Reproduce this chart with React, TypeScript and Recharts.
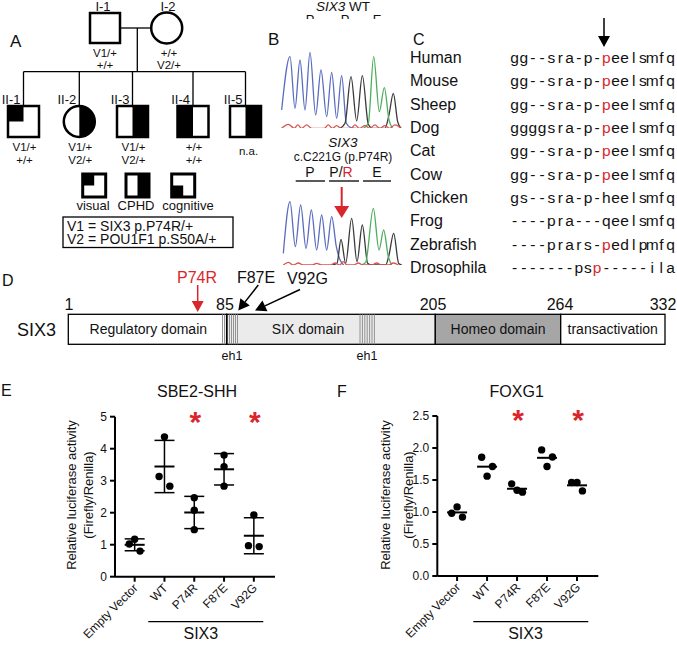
import React from 'react';
import {
  ScatterChart,
  Scatter,
  XAxis,
  YAxis,
  ErrorBar,
  ReferenceDot,
  LineChart,
  Line,
} from 'recharts';

const FONT = '"Liberation Sans", Arial, Helvetica, sans-serif';
const RED = '#d9262c';

// ---------- E / F: luciferase reporter assays (3 replicates each)
const constructs = ['Empty Vector', 'WT', 'P74R', 'F87E', 'V92G'];
const sbe2Shh = [
  [1.02, 1.17, 0.8],
  [3.13, 4.37, 2.83],
  [2.47, 2.08, 1.47],
  [3.8, 3.44, 2.83],
  [0.97, 1.93, 0.94],
];
// horizontal slot of each replicate dot: -1 left, 0 middle, 1 right
const sbe2Jitter = [
  [-1, 0, 1],
  [-1, 0, 1],
  [0, 0, 0],
  [0, 0, 0],
  [-1, 0, 1],
];
const foxg1 = [
  [0.98, 1.08, 0.92],
  [1.855, 1.56, 1.71],
  [1.44, 1.34, 1.31],
  [1.97, 1.71, 1.86],
  [1.46, 1.46, 1.33],
];
const foxg1Jitter = [
  [-1, 0, 1],
  [-1, 0, 1],
  [-1, 0, 1],
  [-1, 0, 1],
  [-1, 0, 1],
];
const sbe2Ticks = [0, 1, 2, 3, 4, 5];
const foxg1Ticks = [0, 0.5, 1, 1.5, 2, 2.5];
const significant = [2, 4]; // P74R, V92G
const sbe2StarY = 5.05;
const foxg1StarY = 2.55;

// ---------- B: chromatogram traces [position, signal]
const wtBlue = [[20, 55], [45, 215], [60, 60], [75, 205], [90, 55], [105, 228], [122, 40], [138, 175], [155, 35], [170, 168], [185, 30], [200, 158], [214, 15], [228, 2], [245, 0]];
const wtBlack = [[195, 0], [210, 15], [228, 155], [245, 22], [262, 158], [280, 12], [292, 0], [330, 0], [342, 40], [355, 105], [368, 20], [378, 0]];
const wtGreen = [[265, 0], [280, 15], [296, 215], [313, 50], [328, 122], [342, 25], [352, 0]];
const wtRed = [[20, 0], [40, 12], [58, 0], [68, 10], [80, 0], [95, 10], [110, 0], [148, 0], [160, 10], [172, 0], [185, 8], [198, 0], [228, 0], [240, 10], [253, 0], [270, 8], [284, 0], [300, 10], [314, 0], [330, 8], [344, 0], [360, 10], [378, 0]];
const mutBlue = [[25, 35], [45, 190], [61, 55], [77, 180], [93, 50], [109, 165], [125, 45], [140, 150], [155, 45], [170, 145], [184, 55], [194, 18], [206, 0]];
const mutBlack = [[172, 0], [186, 5], [198, 77], [212, 5], [230, 140], [246, 10], [262, 120], [278, 5], [290, 0], [332, 0], [342, 30], [356, 95], [371, 5], [380, 0]];
const mutGreen = [[258, 0], [272, 8], [295, 170], [312, 45], [326, 105], [340, 25], [350, 0]];
const mutRed = [[25, 0], [40, 8], [55, 0], [70, 6], [85, 0], [112, 0], [125, 5], [140, 0], [166, 0], [180, 6], [194, 0], [205, 10], [216, 0], [236, 0], [250, 6], [264, 0], [290, 0], [305, 6], [320, 0], [340, 0], [355, 6], [370, 0]];

// ---------- C: alignment
const species = ['Human', 'Mouse', 'Sheep', 'Dog', 'Cat', 'Cow', 'Chicken', 'Frog', 'Zebrafish', 'Drosophila'];
const sequences = [
  'gg--sra-p-peelsmfq',
  'gg--sra-p-peelsmfq',
  'gg--sra-p-peelsmfq',
  'ggggsra-p-peelsmfq',
  'gg--sra-p-peelsmfq',
  'gg--sra-p-peelsmfq',
  'gs--sra-p-heelsmfq',
  '----pra---qeelsmfq',
  '----prars-pedlpmfq',
  '-------psp-----ila',
];
const highlightCol = [10, 10, 10, 10, 10, 10, -1, -1, 10, 9];

// ---------- A: pedigree
const children = [
  { id: 'II-1', sex: 'M', fill: 'tl', geno: ['V1/+', '+/+'] },
  { id: 'II-2', sex: 'F', fill: 'r', geno: ['V1/+', 'V2/+'] },
  { id: 'II-3', sex: 'M', fill: 'r', geno: ['V1/+', 'V2/+'] },
  { id: 'II-4', sex: 'M', fill: 'l', geno: ['+/+', '+/+'] },
  { id: 'II-5', sex: 'M', fill: 'r', geno: ['n.a.'] },
];
const legendItems = [
  { label: 'visual', fill: 'tl' },
  { label: 'CPHD', fill: 'r' },
  { label: 'cognitive', fill: 'bl' },
];

// ---------- D: domain map
const aaMarks = ['1', '85', '205', '264', '332'];
const domainNames = ['Regulatory domain', 'SIX domain', 'Homeo domain', 'transactivation'];

const mean = (a: number[]) => a.reduce((s, v) => s + v, 0) / a.length;
const sd = (a: number[]) => {
  const m = mean(a);
  return Math.sqrt(a.reduce((s, v) => s + (v - m) ** 2, 0) / (a.length - 1));
};

function Arrow({ x1, y1, x2, y2, color = '#000', head = 11, hw = 6, sw = 1.5 }: any) {
  const dx = x2 - x1;
  const dy = y2 - y1;
  const len = Math.hypot(dx, dy);
  const ux = dx / len;
  const uy = dy / len;
  const bx = x2 - ux * head;
  const by = y2 - uy * head;
  const pts = `${x2},${y2} ${bx - uy * hw},${by + ux * hw} ${bx + uy * hw},${by - ux * hw}`;
  return (
    <g>
      <line x1={x1} y1={y1} x2={bx} y2={by} stroke={color} strokeWidth={sw} />
      <polygon points={pts} fill={color} />
    </g>
  );
}

function SquareSym({ x, y, s, fill, sw = 2.5 }: any) {
  const h = s / 2;
  let part = null;
  if (fill === 'tl') part = <rect x={x} y={y} width={h} height={h} fill="#000" />;
  if (fill === 'bl') part = <rect x={x} y={y + h} width={h} height={h} fill="#000" />;
  if (fill === 'r') part = <rect x={x + h} y={y} width={h} height={s} fill="#000" />;
  if (fill === 'l') part = <rect x={x} y={y} width={h} height={s} fill="#000" />;
  return (
    <g>
      <rect x={x} y={y} width={s} height={s} fill="#fff" />
      {part}
      <rect x={x} y={y} width={s} height={s} fill="none" stroke="#000" strokeWidth={sw} />
    </g>
  );
}

function CircleSym({ cx, cy, r, fill, sw = 2.5 }: any) {
  return (
    <g>
      <circle cx={cx} cy={cy} r={r} fill="#fff" />
      {fill === 'r' && <path d={`M${cx},${cy - r} A${r},${r} 0 0 1 ${cx},${cy + r} Z`} fill="#000" />}
      <circle cx={cx} cy={cy} r={r} fill="none" stroke="#000" strokeWidth={sw} />
    </g>
  );
}

function Chromatogram({ left, top, height, yMax, traces }: any) {
  const colors = ['#5b6dbf', '#3a3a3a', '#4cae5b', '#d9534f'];
  return (
    <div style={{ position: 'absolute', left, top }}>
      <LineChart width={130} height={height} margin={{ top: 0, right: 0, bottom: 0, left: 0 }}>
        <XAxis type="number" dataKey="x" domain={[0, 390]} hide allowDataOverflow />
        <YAxis type="number" domain={[0, yMax]} hide allowDataOverflow />
        {traces.map((t: number[][], i: number) => (
          <Line
            key={i}
            data={t.map(([x, h]) => ({ x, h }))}
            dataKey="h"
            type="monotone"
            stroke={colors[i]}
            strokeWidth={1.3}
            dot={false}
            isAnimationActive={false}
          />
        ))}
      </LineChart>
    </div>
  );
}

const MeanLine = (p: any) => (
  <line x1={p.cx - 10} x2={p.cx + 10} y1={p.cy} y2={p.cy} stroke="#000" strokeWidth={2} />
);
const Dot = (p: any) => <circle cx={p.cx} cy={p.cy} r={3.7} fill="#000" />;
const Star = (p: any) => (
  <text x={p.cx + 1} y={p.cy + 17} textAnchor="middle" fontSize={30} fontWeight="bold" fill={RED} fontFamily={FONT}>
    *
  </text>
);

const RotTick = (p: any) => (
  <text
    transform={`translate(${p.x + 4},${p.y + 5}) rotate(-45)`}
    textAnchor="end"
    fontSize={12}
    fill="#111"
    fontFamily={FONT}
  >
    {constructs[Math.round(p.payload.value)]}
  </text>
);

function AssayChart({ left, width, margin, values, jitter, yTicks, fmt, showSd, starY }: any) {
  const points = values.flatMap((reps: number[], g: number) =>
    reps.map((v, k) => ({ x: g + jitter[g][k] * 0.18, y: v }))
  );
  const summary = values.map((reps: number[], g: number) => ({ x: g, y: mean(reps), sd: sd(reps) }));
  return (
    <div style={{ position: 'absolute', left, top: 375 }}>
      <ScatterChart width={width} height={296} margin={margin} style={{ fontFamily: FONT }}>
        <XAxis
          type="number"
          dataKey="x"
          domain={[-0.66, 4.71]}
          ticks={[0, 1, 2, 3, 4]}
          tick={(p: any) => <RotTick {...p} />}
          height={30}
          tickSize={5}
          axisLine={{ stroke: '#000', strokeWidth: 2 }}
          tickLine={{ stroke: '#000', strokeWidth: 2 }}
        />
        <YAxis
          type="number"
          dataKey="y"
          domain={[0, yTicks[yTicks.length - 1]]}
          ticks={yTicks}
          tickFormatter={fmt}
          width={45}
          tickSize={5}
          tickMargin={3}
          tick={{ fontSize: 12, fill: '#111', fontFamily: FONT }}
          axisLine={{ stroke: '#000', strokeWidth: 2 }}
          tickLine={{ stroke: '#000', strokeWidth: 2 }}
        />
        <Scatter data={summary} shape={MeanLine} isAnimationActive={false}>
          {showSd ? <ErrorBar dataKey="sd" direction="y" width={10} stroke="#000" strokeWidth={1.5} /> : null}
        </Scatter>
        <Scatter data={points} shape={Dot} isAnimationActive={false} />
        {significant.map((g) => (
          <ReferenceDot key={g} x={g} y={starY} ifOverflow="visible" shape={Star} />
        ))}
      </ScatterChart>
    </div>
  );
}

export default function App() {
  const childX = [23.5, 79.3, 132.5, 193, 245.5];
  const legendX = [82.7, 126, 171.7];
  const legendLabelX = [93, 136, 188];
  const domX = [68.3, 226.7, 435.3, 560.7, 665];
  const domFill = ['#fff', '#ebebeb', '#a6a6a6', '#fff'];
  const domLabelX = [148.3, 308, 498, 612.7];
  const markX = [69, 225, 433, 560, 663];
  const eh1a = [222.5, 224.5, 229.5, 231.5, 233.5, 235.5, 237.5];
  const eh1b = [360, 362.4, 364.8, 367.2, 369.6, 372, 374.4];
  const t = { fontFamily: FONT, fill: '#111' };

  return (
    <div style={{ position: 'absolute', left: 0, top: 0, width: 677, height: 671, background: '#fff', overflow: 'hidden' }}>
      <svg width={677} height={671} style={{ position: 'absolute', left: 0, top: 0 }}>
        {/* ---- A pedigree ---- */}
        <text x={10} y={47} fontSize={17} {...t}>A</text>
        <text x={103} y={10.5} fontSize={13} textAnchor="middle" {...t}>I-1</text>
        <text x={168} y={10.5} fontSize={13} textAnchor="middle" {...t}>I-2</text>
        <line x1={120} y1={28} x2={151} y2={28} stroke="#000" strokeWidth={1.3} />
        <line x1={137.3} y1={28} x2={137.3} y2={71.7} stroke="#000" strokeWidth={1.3} />
        <line x1={childX[0]} y1={71.7} x2={childX[4]} y2={71.7} stroke="#000" strokeWidth={1.3} />
        <SquareSym x={90} y={13} s={30} fill="none" />
        <CircleSym cx={166.7} cy={28} r={15.5} fill="none" />
        <text x={105} y={57} fontSize={11.5} textAnchor="middle" {...t}>V1/+</text>
        <text x={105} y={69} fontSize={11.5} textAnchor="middle" {...t}>+/+</text>
        <text x={169} y={57} fontSize={11.5} textAnchor="middle" {...t}>+/+</text>
        <text x={169} y={69} fontSize={11.5} textAnchor="middle" {...t}>V2/+</text>
        {children.map((c, i) => {
          const cx = childX[i];
          return (
            <g key={c.id}>
              <line x1={cx} y1={71.7} x2={cx} y2={106} stroke="#000" strokeWidth={1.3} />
              <text x={cx - 3} y={104} fontSize={13} textAnchor="end" {...t}>{c.id}</text>
              {c.sex === 'F' ? (
                <CircleSym cx={cx} cy={121.5} r={15.5} fill={c.fill} />
              ) : (
                <SquareSym x={cx - 15.5} y={106} s={31} fill={c.fill} />
              )}
              {c.geno.length === 1 ? (
                <text x={cx + 3} y={155} fontSize={11.5} textAnchor="middle" {...t}>{c.geno[0]}</text>
              ) : (
                c.geno.map((g, k) => (
                  <text key={k} x={cx + 1} y={151 + k * 13} fontSize={11.5} textAnchor="middle" {...t}>{g}</text>
                ))
              )}
            </g>
          );
        })}
        {legendItems.map((l, i) => (
          <g key={l.label}>
            <SquareSym x={legendX[i]} y={174} s={23} fill={l.fill} sw={3} />
            <text x={legendLabelX[i]} y={210} fontSize={13} textAnchor="middle" {...t}>{l.label}</text>
          </g>
        ))}
        <rect x={63} y={217} width={170} height={30.5} fill="none" stroke="#000" strokeWidth={1.3} />
        <text x={67} y={230.5} fontSize={14} {...t}>V1 = SIX3 p.P74R/+</text>
        <text x={67} y={244} fontSize={14} {...t}>V2 = POU1F1 p.S50A/+</text>

        {/* ---- B chromatogram labels ---- */}
        <text x={268} y={45} fontSize={17} {...t}>B</text>
        <text x={343} y={11} fontSize={13.5} textAnchor="middle" {...t}>
          <tspan fontStyle="italic">SIX3</tspan> WT
        </text>
        <clipPath id="ppeClip">
          <rect x={290} y={12} width={110} height={7} />
        </clipPath>
        <g clipPath="url(#ppeClip)">
          <text x={310} y={24} fontSize={13} textAnchor="middle" {...t}>P</text>
          <text x={345} y={24} fontSize={13} textAnchor="middle" {...t}>P</text>
          <text x={377} y={24} fontSize={13} textAnchor="middle" {...t}>E</text>
        </g>
        <text x={343} y={147} fontSize={13.5} fontStyle="italic" textAnchor="middle" {...t}>SIX3</text>
        <text x={343} y={161} fontSize={12} textAnchor="middle" {...t}>c.C221G (p.P74R)</text>
        <text x={310} y={176.5} fontSize={14} textAnchor="middle" {...t}>P</text>
        <text x={341} y={176.5} fontSize={14} textAnchor="middle" {...t}>
          P/<tspan fill={RED}>R</tspan>
        </text>
        <text x={377} y={176.5} fontSize={14} textAnchor="middle" {...t}>E</text>
        <line x1={295.7} y1={181} x2={325} y2={181} stroke="#000" strokeWidth={1.3} />
        <line x1={329} y1={181} x2={359} y2={181} stroke="#000" strokeWidth={1.3} />
        <line x1={363} y1={181} x2={391} y2={181} stroke="#000" strokeWidth={1.3} />
        <Arrow x1={341.7} y1={187} x2={341.7} y2={218} color={RED} head={12} hw={7.5} sw={2} />

        {/* ---- C alignment ---- */}
        <text x={413} y={45} fontSize={16} {...t}>C</text>
        <Arrow x1={604} y1={18} x2={604} y2={47} head={11} hw={6} sw={1.5} />
        {species.map((s, r) => {
          const y = 63 + r * 23.33;
          return (
            <g key={s}>
              <text x={410} y={y} fontSize={16} {...t}>{s}</text>
              {sequences[r].split('').map((ch, c) => (
                <text
                  key={c}
                  x={510 + (c + 0.5) * 9.17}
                  y={y}
                  fontSize={15.5}
                  textAnchor="middle"
                  fontFamily={FONT}
                  fill={c === highlightCol[r] ? RED : '#111'}
                >
                  {ch}
                </text>
              ))}
            </g>
          );
        })}

        {/* ---- D domain map ---- */}
        <text x={2} y={286} fontSize={16} {...t}>D</text>
        <text x={17} y={336} fontSize={18} {...t}>SIX3</text>
        {domainNames.map((d, i) => (
          <rect key={d} x={domX[i]} y={314.3} width={domX[i + 1] - domX[i]} height={30} fill={domFill[i]} stroke="#000" strokeWidth={1.3} />
        ))}
        {eh1a.map((x) => (
          <line key={x} x1={x} y1={314.3} x2={x} y2={344.3} stroke="#888" strokeWidth={0.9} />
        ))}
        {eh1b.map((x) => (
          <line key={x} x1={x} y1={314.3} x2={x} y2={344.3} stroke="#888" strokeWidth={0.9} />
        ))}
        <line x1={226.7} y1={314.3} x2={226.7} y2={344.3} stroke="#000" strokeWidth={1.6} />
        {domainNames.map((d, i) => (
          <text key={d} x={domLabelX[i]} y={333.5} fontSize={14} textAnchor="middle" {...t}>{d}</text>
        ))}
        {aaMarks.map((m, i) => (
          <text key={m} x={markX[i]} y={310} fontSize={16} textAnchor="middle" {...t}>{m}</text>
        ))}
        <text x={232} y={360} fontSize={12.5} textAnchor="middle" {...t}>eh1</text>
        <text x={367} y={360} fontSize={12.5} textAnchor="middle" {...t}>eh1</text>
        <text x={197} y={283} fontSize={16} textAnchor="middle" fontFamily={FONT} fill={RED}>P74R</text>
        <text x={256} y={283} fontSize={16} textAnchor="middle" {...t}>F87E</text>
        <text x={307.5} y={284} fontSize={16} textAnchor="middle" {...t}>V92G</text>
        <Arrow x1={197.7} y1={285} x2={197.7} y2={312} color={RED} head={11} hw={6} sw={1.5} />
        <Arrow x1={258.3} y1={285} x2={238.3} y2={310.5} head={11} hw={6} sw={1.5} />
        <Arrow x1={300} y1={289.5} x2={255} y2={310.5} head={11} hw={6} sw={1.5} />

        {/* ---- E / F labels ---- */}
        <text x={1} y={396} fontSize={16} {...t}>E</text>
        <text x={197} y={397} fontSize={16} textAnchor="middle" {...t}>SBE2-SHH</text>
        <text transform="translate(76,495) rotate(-90)" fontSize={13} textAnchor="middle" {...t}>Relative luciferase activity</text>
        <text transform="translate(92.5,495) rotate(-90)" fontSize={13} textAnchor="middle" {...t}>(Firefly/Renilla)</text>
        <line x1={148.3} y1={621.7} x2={263.3} y2={621.7} stroke="#000" strokeWidth={1.2} />
        <text x={200.8} y={639} fontSize={16} textAnchor="middle" {...t}>SIX3</text>

        <text x={337} y={397} fontSize={16} {...t}>F</text>
        <text x={516.7} y={397} fontSize={16} textAnchor="middle" {...t}>FOXG1</text>
        <text transform="translate(390,495) rotate(-90)" fontSize={13} textAnchor="middle" {...t}>Relative luciferase activity</text>
        <text transform="translate(412.5,495) rotate(-90)" fontSize={13} textAnchor="middle" {...t}>(Firefly/Renilla)</text>
        <line x1={473.3} y1={621.7} x2={588.3} y2={621.7} stroke="#000" strokeWidth={1.2} />
        <text x={525.5} y={639} fontSize={16} textAnchor="middle" {...t}>SIX3</text>
      </svg>

      <Chromatogram left={275} top={45} height={83.3} yMax={250} traces={[wtBlue, wtBlack, wtGreen, wtRed]} />
      <Chromatogram left={275} top={200} height={65} yMax={195} traces={[mutBlue, mutBlack, mutGreen, mutRed]} />

      <AssayChart
        left={0}
        width={330}
        margin={{ top: 41.7, right: 55, bottom: 64.3, left: 70 }}
        values={sbe2Shh}
        jitter={sbe2Jitter}
        yTicks={sbe2Ticks}
        fmt={(v: number) => String(v)}
        showSd
        starY={sbe2StarY}
      />
      <AssayChart
        left={330}
        width={347}
        margin={{ top: 41, right: 78.7, bottom: 65, left: 62.3 }}
        values={foxg1}
        jitter={foxg1Jitter}
        yTicks={foxg1Ticks}
        fmt={(v: number) => v.toFixed(1)}
        showSd={false}
        starY={foxg1StarY}
      />
    </div>
  );
}
